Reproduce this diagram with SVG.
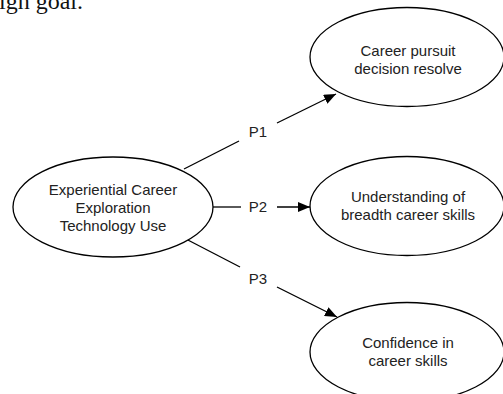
<svg xmlns="http://www.w3.org/2000/svg" width="503" height="394" viewBox="0 0 503 394">
<style>
.node ellipse{fill:#fff;stroke:#000;stroke-width:1.3}
.lbl{font-family:"Liberation Sans",Arial,Helvetica,sans-serif;font-size:15px;fill:#222;text-anchor:middle}
.edge{stroke:#000;stroke-width:1.3;fill:none}
.top{font-family:"Liberation Serif","Times New Roman",serif;font-size:24px;fill:#111}
</style>
<defs>
<marker id="arr" viewBox="0 0 12 10" refX="12" refY="5" markerWidth="12" markerHeight="10" markerUnits="userSpaceOnUse" orient="auto">
<path d="M0,0 L12,5 L0,10 z" fill="#000"/>
</marker>
</defs>
<rect width="503" height="394" fill="#fff"/>
<text class="top" x="-1" y="9">igh goal.</text>
<g id="connectors">
<line class="edge" x1="184" y1="169" x2="239" y2="141"/>
<line class="edge" x1="277" y1="123" x2="336" y2="94" marker-end="url(#arr)"/>
<line class="edge" x1="213" y1="207" x2="241" y2="207"/>
<line class="edge" x1="277" y1="207" x2="310" y2="207" marker-end="url(#arr)"/>
<line class="edge" x1="184" y1="238" x2="240" y2="267"/>
<line class="edge" x1="277" y1="287" x2="337" y2="317" marker-end="url(#arr)"/>
<text class="lbl" x="258" y="137">P1</text>
<text class="lbl" x="258" y="212">P2</text>
<text class="lbl" x="258" y="284">P3</text>
</g>
<g id="node-source" class="node">
<ellipse cx="113" cy="207" rx="100" ry="50"/>
<text class="lbl" x="113" y="195">Experiential Career</text>
<text class="lbl" x="113" y="213">Exploration</text>
<text class="lbl" x="113" y="231">Technology Use</text>
</g>
<g id="node-decision" class="node">
<ellipse cx="407" cy="57" rx="97" ry="49.5"/>
<text class="lbl" x="408" y="56">Career pursuit</text>
<text class="lbl" x="408" y="74">decision resolve</text>
</g>
<g id="node-understanding" class="node">
<ellipse cx="407" cy="206" rx="97" ry="49.5"/>
<text class="lbl" x="408" y="202">Understanding of</text>
<text class="lbl" x="408" y="220">breadth career skills</text>
</g>
<g id="node-confidence" class="node">
<ellipse cx="407" cy="352" rx="97" ry="49.5"/>
<text class="lbl" x="408" y="348">Confidence in</text>
<text class="lbl" x="408" y="366">career skills</text>
</g>
</svg>
